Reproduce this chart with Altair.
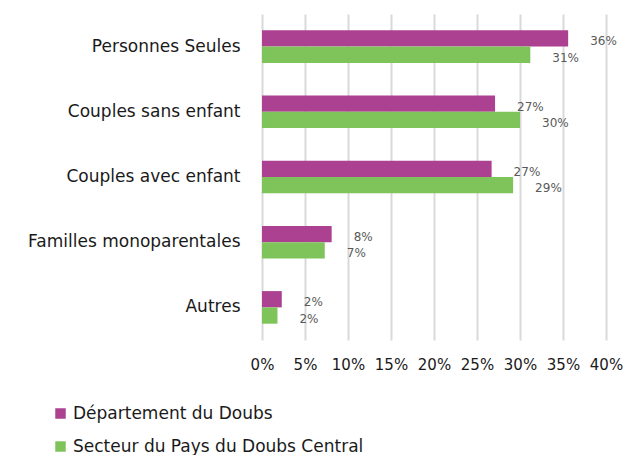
import altair as alt
import pandas as pd

categories = ["Personnes Seules", "Couples sans enfant", "Couples avec enfant",
              "Familles monoparentales", "Autres"]
series = ["Département du Doubs", "Secteur du Pays du Doubs Central"]
dept_values = [0.356, 0.271, 0.267, 0.081, 0.023]
secteur_values = [0.312, 0.300, 0.292, 0.073, 0.018]
x_ticks = [0, 0.05, 0.10, 0.15, 0.20, 0.25, 0.30, 0.35, 0.40]
colors = ["#AB4190", "#7FC45B"]

rows = []
for c, d, s in zip(categories, dept_values, secteur_values):
    rows.append({"cat": c, "serie": series[0], "val": d})
    rows.append({"cat": c, "serie": series[1], "val": s})
df = pd.DataFrame(rows)

font = "DejaVu Sans"

base = alt.Chart(df).encode(
    y=alt.Y("cat:N", sort=categories, title=None,
            scale=alt.Scale(paddingInner=0.5, paddingOuter=0.25),
            axis=alt.Axis(ticks=False, domain=False, grid=False, labelPadding=22,
                          labelLimit=0, labelFontSize=17, labelFont=font,
                          labelColor="#1a1a1a")),
    yOffset=alt.YOffset("serie:N", sort=series),
    x=alt.X("val:Q", title=None,
            scale=alt.Scale(domain=[0, 0.4], nice=False),
            axis=alt.Axis(values=x_ticks, format=".0%", ticks=False, domain=False,
                          grid=True, labelPadding=17, labelFontSize=15, labelFont=font,
                          labelColor="#1a1a1a", gridColor="#d9d9d9", gridWidth=2,
                          labelFlush=False)),
)

bars = base.mark_bar().encode(
    color=alt.Color("serie:N", sort=series,
                    scale=alt.Scale(domain=series, range=colors),
                    legend=alt.Legend(title=None, orient="none", legendX=-210, legendY=391,
                                      direction="vertical", symbolType="square",
                                      symbolSize=110, symbolStrokeWidth=0,
                                      labelFontSize=17, labelFont=font, labelColor="#1a1a1a",
                                      labelLimit=0, rowPadding=15, labelOffset=4)),
)

labels = base.mark_text(align="left", baseline="middle", dx=22, dy=3, fontSize=12,
                        font=font, color="#595959").encode(
    text=alt.Text("val:Q", format=".0%"),
)

chart = (bars + labels).properties(
    width=344, height=326,
    padding={"left": 254, "top": 6, "right": 17, "bottom": 115},
    autosize=alt.AutoSizeParams(type="none"),
).configure_view(stroke=None)

chart.save("out.html", embed_options={"renderer": "svg", "actions": False})
